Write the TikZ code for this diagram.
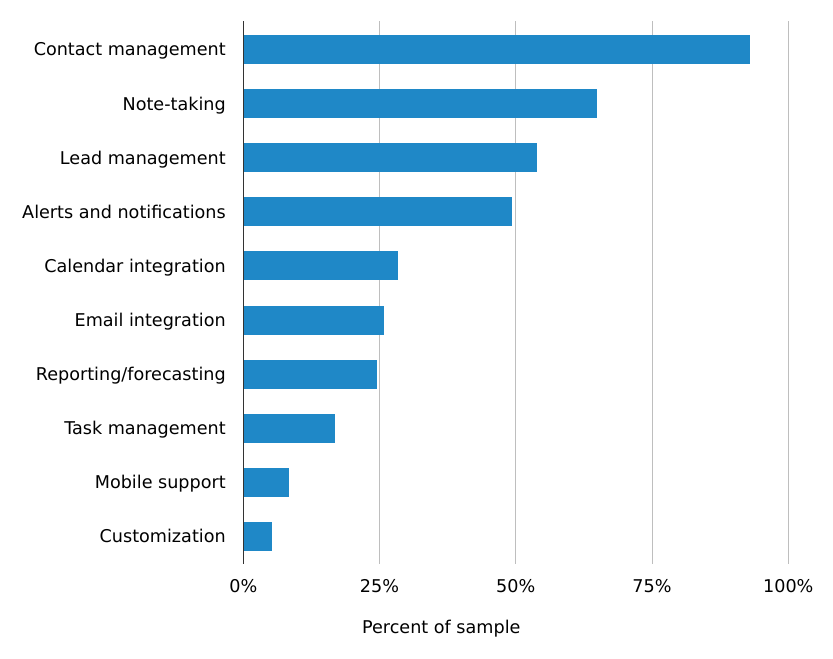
\documentclass[tikz,border=0pt]{standalone}
\usepackage{fontspec}
\setmainfont{DejaVu Sans}
\definecolor{barblue}{HTML}{1F88C7}
\definecolor{gridgray}{HTML}{BEBEBE}
\definecolor{axisgray}{HTML}{333333}
\begin{document}
\begin{tikzpicture}[x=0.75pt,y=-0.75pt,
        every node/.style={font=\fontsize{13.2}{15}\selectfont,inner sep=0pt},
        bar/.style={fill=barblue},
        gridline/.style={draw=gridgray,line width=0.75pt},
        axisline/.style={draw=axisgray,line width=0.8pt}]
    \useasboundingbox (0,0) rectangle (833,658);
    % vertical grid and tick labels
    \foreach \p in {0,25,50,75,100} {
        \ifnum\p>0 \draw[gridline] (243.3+5.45*\p,21) -- (243.3+5.45*\p,564); \fi
        \node[anchor=base] (tick\p) at (243.3+5.45*\p,592) {\p\%};
    }
    % bars and their labels
    \foreach \v/\lbl [count=\i] in {93.0/Contact management, 64.9/Note-taking,
            53.9/Lead management, 49.3/Alerts and notifications,
            28.4/Calendar integration, 25.8/Email integration,
            24.5/Reporting\slash forecasting, 16.8/Task management,
            8.4/Mobile support, 5.3/Customization} {
        \pgfmathsetmacro\yc{49.5+54.1*(\i-1)}
        \fill[bar] (243.7,\yc-14.5) rectangle (243.3+5.45*\v,\yc+14.5);
        \node[anchor=base east] (cat\i) at (226,\yc+6.4) {\lbl};
    }
    \draw[axisline] (243.3,21) -- (243.3,564);
    \node[anchor=base] (xtitle) at (441.3,633) {Percent of sample};
\end{tikzpicture}
\end{document}
